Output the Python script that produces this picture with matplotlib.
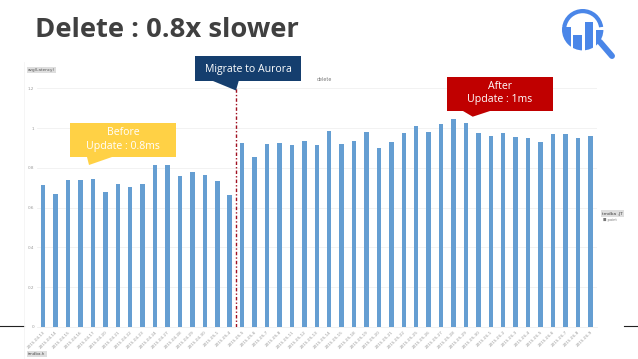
import matplotlib
matplotlib.use("Agg")
import matplotlib.pyplot as plt
from matplotlib.patches import Circle, Polygon, Rectangle, Wedge

# --- Data --------------------------------------------------------------------
dates = [
    "2015-04-13", "2015-04-14", "2015-04-15", "2015-04-16", "2015-04-17",
    "2015-04-20", "2015-04-21", "2015-04-22", "2015-04-23", "2015-04-24",
    "2015-04-27", "2015-04-28", "2015-04-29", "2015-04-30", "2015-05-1",
    "2015-05-4", "2015-05-5", "2015-05-6", "2015-05-7", "2015-05-8",
    "2015-05-11", "2015-05-12", "2015-05-13", "2015-05-14", "2015-05-15",
    "2015-05-18", "2015-05-19", "2015-05-20", "2015-05-21", "2015-05-22",
    "2015-05-25", "2015-05-26", "2015-05-27", "2015-05-28", "2015-05-29",
    "2015-05-30", "2015-06-1", "2015-06-2", "2015-06-3", "2015-06-4",
    "2015-06-5", "2015-06-6", "2015-06-7", "2015-06-8", "2015-06-9",
]
latency = [
    0.712, 0.667, 0.740, 0.740, 0.744, 0.677, 0.719, 0.703, 0.717, 0.816,
    0.816, 0.760, 0.779, 0.762, 0.734, 0.662, 0.926, 0.856, 0.921, 0.925,
    0.916, 0.936, 0.916, 0.985, 0.920, 0.933, 0.980, 0.900, 0.931, 0.976,
    1.008, 0.980, 1.022, 1.047, 1.028, 0.976, 0.960, 0.973, 0.956, 0.951,
    0.930, 0.968, 0.970, 0.948, 0.960,
]
y_ticks = [0, 0.2, 0.4, 0.6, 0.8, 1, 1.2]
migration_pos = 15.5

W, H = 638, 359
NAVY = "#153e6e"
YELLOW = "#ffd145"
RED = "#c00000"
BLUE = "#4a86e8"

fig = plt.figure(figsize=(W / 100, H / 100), dpi=100)

# --- Bar chart ---------------------------------------------------------------
ax = fig.add_axes([37 / W, 1 - 327 / H, (596.5 - 37) / W, (327 - 88.3) / H])
ax.bar(range(len(latency)), latency, width=0.36, color="#659ed2", zorder=2)
ax.axvline(migration_pos, color="#a01020", linewidth=1, linestyle=(0, (2.5, 1.5, 1, 1.5)), zorder=3)
ax.set_xlim(-0.5, 44.5)
ax.set_ylim(0, 1.2)
ax.set_yticks(y_ticks, [str(t) for t in y_ticks])
ax.set_xticks(range(len(dates)), dates)
ax.grid(axis="y", color="#f0f0f0", linewidth=0.6, zorder=0)
ax.set_axisbelow(True)
ax.tick_params(axis="y", length=0, labelsize=3, labelcolor="#999999", pad=2)
ax.tick_params(axis="x", length=0, labelsize=3, labelcolor="#999999", pad=2)
plt.setp(ax.get_xticklabels(), rotation=45, ha="right", rotation_mode="anchor")
for side in ["top", "right", "left"]:
    ax.spines[side].set_visible(False)
ax.spines["bottom"].set_color("#eeeeee")
ax.spines["bottom"].set_linewidth(0.6)
ax.set_title("delete", fontsize=3.4, color="#777777", x=0.513, pad=5.5)

# --- Slide overlay, in pixels of the picture ---------------------------------
ov = fig.add_axes([0, 0, 1, 1], zorder=5)
ov.set_xlim(0, W)
ov.set_ylim(H, 0)
ov.axis("off")
ov.patch.set_alpha(0)

ov.text(35, 37, "Delete : 0.8x slower", fontsize=19.7, fontweight="bold",
        family="Open Sans", color="#404040", ha="left", va="baseline")

# slide rule either side of the screenshot, and its faint left edge
ov.plot([0, 24], [325.5, 325.5], color="#222222", linewidth=0.8)
ov.plot([624, 638], [325.5, 325.5], color="#222222", linewidth=0.8)
ov.plot([24, 24], [62, 359], color="#f4f4f4", linewidth=0.6)

# callouts
callouts = [
    (195, 56, 106, 25, [(213, 81), (236, 90.5), (238.7, 81)], NAVY,
     "Migrate to Aurora", 69.5, 7.6),
    (70, 123, 106, 34, [(87, 157), (89, 165), (112, 157)], YELLOW,
     "Before\nUpdate : 0.8ms", 139.5, 7.6),
    (447, 77, 106, 34, [(463, 111), (472.7, 116.7), (490, 111)], RED,
     "After\nUpdate : 1ms", 93, 7.6),
]
for x, y, w, h, tail, color, label, text_y, size in callouts:
    ov.add_patch(Rectangle((x, y), w, h, facecolor=color, edgecolor="none"))
    ov.add_patch(Polygon(tail, facecolor=color, edgecolor="none"))
    ov.text(x + w / 2, text_y, label, color="white", fontsize=size, family="Open Sans",
            ha="center", va="center", linespacing=1.3)

# small grey labels from the screenshot
label_box = dict(facecolor="#dedede", edgecolor="none", pad=0.8)
ov.text(28, 70, "avg(Latency)", fontsize=3, color="#555555", va="center", bbox=label_box)
ov.text(28, 354, "tmdba.h", fontsize=3, color="#555555", va="center", bbox=label_box)
ov.text(602, 213.5, "tmdba .JT", fontsize=3.2, color="#444444", va="center", bbox=label_box)
ov.text(603, 220, "\u25a0 point", fontsize=2.6, color="#777777", va="center")

# magnifier logo
cx, cy, r = 582.7, 29.7, 20.7
ov.add_patch(Wedge((cx, cy), r, 188, 352, width=4.2, facecolor=BLUE, edgecolor="none"))
disc = Circle((cx, cy), r, transform=ov.transData)
for bx, by, bw, bh in [(562, 27, 8.7, 23), (573.3, 35, 8.7, 16), (584.7, 21.7, 8.6, 29), (596, 30, 8, 16)]:
    piece = Rectangle((bx, by), bw, bh, facecolor=BLUE, edgecolor="none")
    ov.add_patch(piece)
    piece.set_clip_path(disc)
ov.plot([600, 612], [42, 56], color=BLUE, linewidth=4.3, solid_capstyle="round")

fig.savefig("out.png", dpi=100)
